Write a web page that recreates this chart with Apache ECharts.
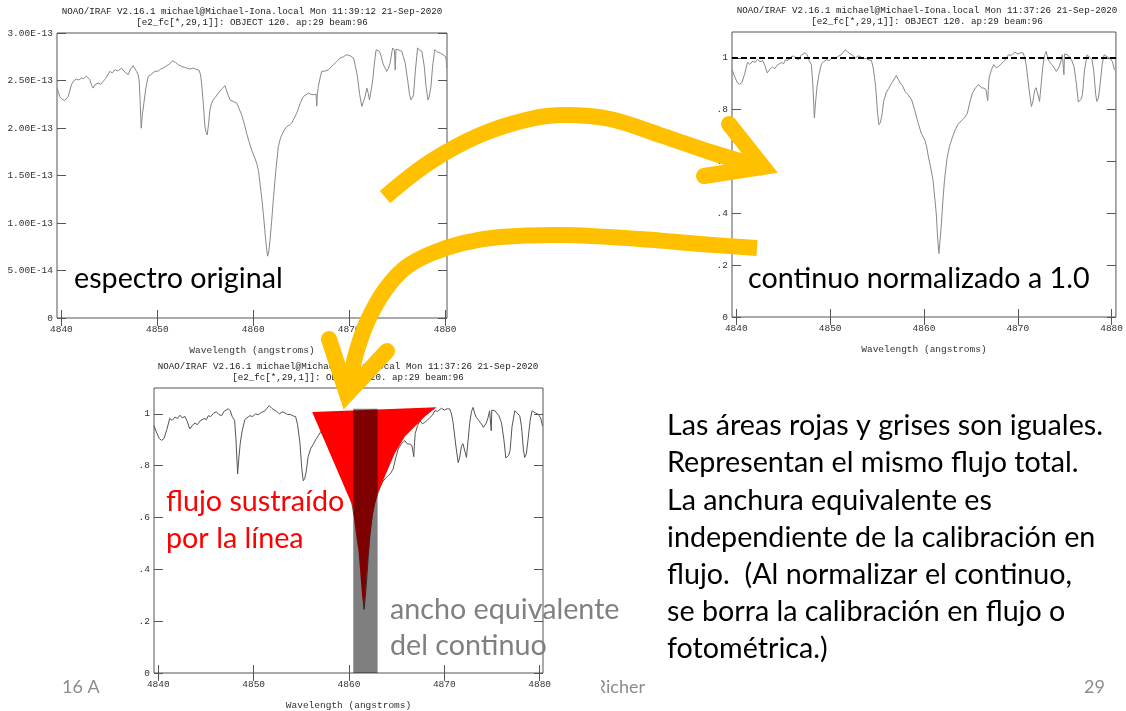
<!DOCTYPE html>
<html>
<head>
<meta charset="utf-8">
<script src="https://cdn.jsdelivr.net/npm/echarts@6/dist/echarts.min.js"></script>
<style>
  html, body { margin: 0; padding: 0; background: #ffffff; }
  #chart { width: 1126px; height: 711px; }
</style>
</head>
<body>
<div id="chart"></div>
<script>
// ---- Axis ticks -------------------------------------------------------
const wavelengthTicks = [4840, 4850, 4860, 4870, 4880];
const wavelengthLabels = ['4840', '4850', '4860', '4870', '4880'];
// Flux axis of the calibrated spectrum, in units of 1e-13 erg/cm2/s/A
const fluxTicks = [0, 0.5, 1, 1.5, 2, 2.5, 3];
const fluxLabels = ['0', '5.00E-14', '1.00E-13', '1.50E-13', '2.00E-13', '2.50E-13', '3.00E-13'];
const normTicks = [0, 0.2, 0.4, 0.6, 0.8, 1];
const normLabels = ['0', '.2', '.4', '.6', '.8', '1'];

// ---- Spectra ----------------------------------------------------------
// Flux-calibrated spectrum around H-beta: [wavelength (A), flux (1e-13)]
const originalSpectrum = [
  [4839.55,2.42],[4839.7,2.37],[4839.83,2.33],[4840.1,2.3],[4840.35,2.29],[4840.55,2.3],[4840.7,2.33],
  [4840.9,2.4],[4841.04,2.455],[4841.3,2.5],[4841.57,2.515],[4841.8,2.505],[4842.09,2.525],[4842.3,2.52],
  [4842.6,2.545],[4842.8,2.53],[4842.96,2.51],[4843.15,2.45],[4843.3,2.42],[4843.5,2.455],[4843.83,2.473],
  [4844.1,2.46],[4844.35,2.49],[4844.6,2.52],[4845.05,2.596],[4845.3,2.58],[4845.57,2.613],[4845.9,2.6],
  [4846.26,2.631],[4846.5,2.6],[4846.7,2.59],[4846.96,2.561],[4847.2,2.62],[4847.48,2.656],[4847.65,2.64],
  [4847.83,2.596],[4848.0,2.56],[4848.1,2.508],[4848.2,2.3],[4848.32,1.998],[4848.45,2.15],[4848.6,2.262],
  [4848.8,2.42],[4849.05,2.543],[4849.3,2.56],[4849.74,2.596],[4850.1,2.6],[4850.35,2.62],[4850.61,2.631],
  [4850.9,2.65],[4851.13,2.666],[4851.35,2.68],[4851.59,2.708],[4851.9,2.69],[4852.18,2.666],[4852.5,2.65],
  [4852.8,2.64],[4853.05,2.631],[4853.4,2.62],[4853.74,2.631],[4854.0,2.62],[4854.37,2.606],[4854.5,2.56],
  [4854.61,2.473],[4854.8,2.25],[4854.96,2.015],[4855.1,1.95],[4855.2,1.927],[4855.35,2.05],[4855.48,2.191],
  [4855.65,2.26],[4855.83,2.297],[4856.1,2.33],[4856.35,2.367],[4856.7,2.41],[4857.05,2.445],[4857.3,2.37],
  [4857.57,2.297],[4857.9,2.28],[4858.27,2.262],[4858.5,2.21],[4858.79,2.139],[4859.05,2.05],[4859.31,1.945],
  [4859.55,1.86],[4859.83,1.769],[4860.1,1.7],[4860.36,1.629],[4860.55,1.55],[4860.7,1.418],[4860.9,1.25],
  [4861.05,1.101],[4861.2,0.93],[4861.3,0.82],[4861.4,0.72],[4861.5,0.651],[4861.62,0.7],[4861.75,0.82],
  [4861.92,1.02],[4862.09,1.242],[4862.35,1.55],[4862.62,1.804],[4862.85,1.9],[4863.07,1.945],[4863.3,1.99],
  [4863.49,2.015],[4863.75,2.03],[4864.0,2.051],[4864.25,2.1],[4864.53,2.156],[4864.9,2.26],[4865.23,2.332],
  [4865.5,2.35],[4865.75,2.367],[4866.0,2.355],[4866.27,2.35],[4866.55,2.357],[4866.62,2.23],[4866.68,2.35],
  [4866.79,2.438],[4867.0,2.54],[4867.14,2.596],[4867.5,2.6],[4867.84,2.613],[4868.1,2.64],[4868.36,2.666],
  [4868.7,2.7],[4869.05,2.737],[4869.4,2.75],[4869.75,2.772],[4870.1,2.76],[4870.45,2.737],[4870.65,2.65],
  [4870.86,2.543],[4871.1,2.35],[4871.32,2.227],[4871.5,2.28],[4871.66,2.332],[4871.84,2.42],[4872.0,2.36],
  [4872.12,2.297],[4872.3,2.4],[4872.46,2.508],[4872.65,2.7],[4872.81,2.824],[4873.16,2.807],[4873.35,2.75],
  [4873.51,2.684],[4873.7,2.64],[4873.92,2.596],[4874.1,2.63],[4874.27,2.684],[4874.45,2.8],[4874.55,2.842],
  [4874.72,2.82],[4874.8,2.61],[4874.88,2.83],[4874.97,2.832],[4875.2,2.82],[4875.49,2.807],[4875.65,2.75],
  [4875.84,2.684],[4876.1,2.5],[4876.3,2.35],[4876.43,2.297],[4876.6,2.32],[4876.71,2.35],[4876.9,2.6],
  [4877.13,2.842],[4877.35,2.82],[4877.58,2.807],[4877.83,2.649],[4878.0,2.45],[4878.21,2.297],[4878.35,2.33],
  [4878.53,2.438],[4878.7,2.65],[4878.91,2.824],[4879.2,2.8],[4879.5,2.789],[4879.8,2.77],[4880.02,2.754],
  [4880.12,2.72],[4880.19,2.631]
];

// Same spectrum divided by its fitted continuum: [wavelength (A), relative flux]
const normalizedSpectrum = [
  [4839.55,0.955],[4839.8,0.93],[4840.1,0.905],[4840.35,0.898],[4840.6,0.905],[4840.9,0.94],[4841.2,0.983],
  [4841.45,0.975],[4841.75,0.988],[4842.0,0.982],[4842.27,0.995],[4842.5,0.985],[4842.8,0.99],[4843.05,0.97],
  [4843.3,0.942],[4843.55,0.955],[4843.85,0.965],[4844.1,0.958],[4844.35,0.972],[4844.55,0.968],[4844.8,0.982],
  [4845.05,0.978],[4845.24,0.993],[4845.5,0.99],[4845.8,1.003],[4846.1,1.008],[4846.35,0.998],[4846.64,0.993],
  [4846.9,1.01],[4847.1,1.005],[4847.34,1.02],[4847.55,1.012],[4847.75,0.99],[4848.0,0.975],[4848.15,0.9],
  [4848.32,0.768],[4848.45,0.83],[4848.6,0.888],[4848.8,0.935],[4849.08,0.978],[4849.3,0.985],[4849.6,0.993],
  [4849.9,0.99],[4850.2,1.0],[4850.48,0.997],[4850.8,1.005],[4851.18,1.012],[4851.4,1.022],[4851.63,1.032],
  [4851.9,1.022],[4852.15,1.015],[4852.4,1.01],[4852.7,1.0],[4853.0,1.008],[4853.28,1.004],[4853.55,0.998],
  [4853.85,0.998],[4854.15,0.992],[4854.4,0.99],[4854.6,0.96],[4854.85,0.89],[4855.05,0.79],[4855.2,0.742],
  [4855.35,0.75],[4855.5,0.775],[4855.72,0.835],[4856.0,0.868],[4856.25,0.882],[4856.5,0.9],[4856.77,0.915],
  [4857.05,0.932],[4857.25,0.918],[4857.47,0.903],[4857.7,0.893],[4858.0,0.87],[4858.3,0.858],[4858.69,0.838],
  [4859.0,0.8],[4859.39,0.748],[4859.7,0.71],[4860.09,0.683],[4860.3,0.655],[4860.44,0.625],[4860.7,0.58],
  [4860.96,0.53],[4861.15,0.46],[4861.31,0.4],[4861.45,0.31],[4861.59,0.245],[4861.7,0.29],[4861.84,0.35],
  [4862.0,0.44],[4862.19,0.53],[4862.45,0.61],[4862.71,0.658],[4863.06,0.696],[4863.3,0.72],[4863.58,0.741],
  [4863.85,0.752],[4864.11,0.762],[4864.35,0.77],[4864.63,0.787],[4864.9,0.83],[4865.16,0.864],[4865.5,0.885],
  [4865.86,0.897],[4866.1,0.885],[4866.38,0.883],[4866.6,0.878],[4866.75,0.878],[4866.8,0.835],[4866.85,0.875],
  [4866.95,0.925],[4867.2,0.955],[4867.43,0.974],[4867.7,0.962],[4867.95,0.967],[4868.2,0.975],[4868.48,0.986],
  [4868.75,0.995],[4869.0,1.012],[4869.3,1.01],[4869.7,1.022],[4870.0,1.015],[4870.3,1.02],[4870.57,1.019],
  [4870.75,1.0],[4870.92,0.967],[4871.2,0.88],[4871.45,0.812],[4871.6,0.83],[4871.8,0.875],[4871.95,0.885],
  [4872.08,0.878],[4872.2,0.85],[4872.32,0.832],[4872.5,0.9],[4872.67,0.967],[4872.85,1.01],[4873.02,1.025],
  [4873.2,1.0],[4873.37,0.986],[4873.6,0.975],[4873.9,0.961],[4874.1,0.948],[4874.24,0.941],[4874.4,0.965],
  [4874.59,0.986],[4874.75,1.012],[4874.86,1.019],[4874.92,0.935],[4874.98,1.015],[4875.1,1.02],[4875.3,1.012],
  [4875.46,1.013],[4875.7,0.995],[4875.99,0.967],[4876.25,0.9],[4876.45,0.83],[4876.58,0.825],[4876.75,0.84],
  [4876.9,0.86],[4877.1,0.95],[4877.39,1.012],[4877.6,1.005],[4877.91,0.993],[4878.1,0.95],[4878.3,0.86],
  [4878.43,0.832],[4878.6,0.845],[4878.78,0.9],[4879.0,0.975],[4879.2,1.012],[4879.5,1.005],[4879.83,0.999],
  [4880.0,1.005],[4880.1,0.985],[4880.3,0.954]
];

// Outline of the flux removed by the line (red area), in [wavelength, relative flux]
const absorbedFluxOutline = [
  [4856.14,1.007],[4860.44,0.64],[4860.6,0.575],[4860.8,0.52],[4861.0,0.47],[4861.2,0.38],[4861.35,0.31],
  [4861.55,0.248],[4861.7,0.3],[4861.85,0.38],[4862.05,0.47],[4862.3,0.56],[4862.6,0.635],[4863.0,0.693],
  [4863.76,0.758],[4864.81,0.848],[4865.86,0.913],[4866.91,0.951],[4867.96,0.99],[4869.18,1.026]
];

// Equivalent width box: wavelength span and height (continuum units)
const equivalentWidthSpan = [4860.45, 4863.0];
const equivalentWidthTop = 1.02;
const continuumLevel = 1;

// ---- Layout of the three plots ---------------------------------------
const panels = [
  { grid: { left: 57, top: 33, width: 390, height: 285 }, x: [4839.54, 4880.2],  y: [0, 3],   ticks: fluxTicks, labels: fluxLabels },
  { grid: { left: 732, top: 32, width: 391, height: 285 }, x: [4839.54, 4880.46], y: [0, 1.1], ticks: normTicks, labels: normLabels },
  { grid: { left: 154, top: 388, width: 389, height: 286 }, x: [4839.55, 4880.35], y: [0, 1.1], ticks: normTicks, labels: normLabels }
];

const MONO = 'Liberation Mono';
const tickText = { fontFamily: MONO, fontSize: 9.5, color: '#333' };
const frameColor = '#555';

function labelFor(ticks, labels) {
  return function (v) {
    const k = ticks.findIndex(t => Math.abs(t - v) < 1e-6);
    return k >= 0 ? labels[k] : '';
  };
}

const grids = [], xAxes = [], yAxes = [];
panels.forEach((p, i) => {
  grids.push(Object.assign({ show: true, borderColor: frameColor, borderWidth: 1, backgroundColor: 'transparent' }, p.grid));
  const xBase = { type: 'value', gridIndex: i, min: p.x[0], max: p.x[1], axisLine: { show: false }, splitLine: { show: false } };
  xAxes.push(Object.assign({}, xBase, {
    position: 'bottom',
    axisTick: { inside: true, length: 8, customValues: wavelengthTicks, lineStyle: { color: frameColor } },
    axisLabel: Object.assign({ customValues: wavelengthTicks, margin: 6, formatter: labelFor(wavelengthTicks, wavelengthLabels) }, tickText),
    name: 'Wavelength (angstroms)', nameLocation: 'middle', nameGap: 27,
    nameTextStyle: Object.assign({}, tickText)
  }));
  xAxes.push(Object.assign({}, xBase, {
    position: 'top',
    axisTick: { inside: true, length: 8, customValues: wavelengthTicks, lineStyle: { color: frameColor } },
    axisLabel: { show: false }
  }));
  const yBase = { type: 'value', gridIndex: i, min: p.y[0], max: p.y[1], axisLine: { show: false }, splitLine: { show: false } };
  yAxes.push(Object.assign({}, yBase, {
    position: 'left',
    axisTick: { inside: true, length: 9, customValues: p.ticks, lineStyle: { color: frameColor } },
    axisLabel: Object.assign({ customValues: p.ticks, margin: 4, formatter: labelFor(p.ticks, p.labels) }, tickText)
  }));
  yAxes.push(Object.assign({}, yBase, {
    position: 'right',
    axisTick: { inside: true, length: 9, customValues: p.ticks, lineStyle: { color: frameColor } },
    axisLabel: { show: false }
  }));
});

// ---- Annotations drawn on the slide ----------------------------------
const GOLD = '#FFC000';
const SANS = 'Lato';
const BIG = 28.7;

function headerLines(cx, y1, time) {
  return [
    { type: 'text', z: 50, style: { text: 'NOAO/IRAF V2.16.1 michael@Michael-Iona.local Mon ' + time + ' 21-Sep-2020',
      x: cx, y: y1, textAlign: 'center', textVerticalAlign: 'middle', font: '9.2px "' + MONO + '"', fill: '#222' } },
    { type: 'text', z: 50, style: { text: '[e2_fc[*,29,1]]: OBJECT 120. ap:29 beam:96',
      x: cx, y: y1 + 11, textAlign: 'center', textVerticalAlign: 'middle', font: '9.2px "' + MONO + '"', fill: '#222' } }
  ];
}

function slideText(text, x, y, size, color, align) {
  return { type: 'text', z: 120, style: { text: text, x: x, y: y, textAlign: align || 'left', textVerticalAlign: 'middle',
    font: size + 'px "' + SANS + '"', fill: color } };
}

const bodyLines = [
  'Las áreas rojas y grises son iguales.',
  'Representan el mismo flujo total.',
  'La anchura equivalente es',
  'independiente de la calibración en',
  'flujo.  (Al normalizar el continuo,',
  'se borra la calibración en flujo o',
  'fotométrica.)'
];

const graphics = []
  .concat(headerLines(252, 12, '11:39:12'))
  .concat(headerLines(927, 11, '11:37:26'))
  .concat(headerLines(348, 367, '11:37:26'))
  .concat([
    slideText('espectro original', 74, 279, BIG, '#000'),
    slideText('continuo normalizado a 1.0', 748, 279, BIG, '#000'),
    slideText('flujo sustraído', 166, 502, BIG, '#FF0000'),
    slideText('por la línea', 166, 539, BIG, '#FF0000'),
    slideText('ancho equivalente', 390, 610, BIG, '#808080'),
    slideText('del continuo', 390, 646, BIG, '#808080'),
    slideText('16 A', 62, 687, 18, '#8c8c8c'),
    slideText('Richer', 645, 687, 18, '#8c8c8c', 'right'),
    { type: 'rect', z: 121, shape: { x: 585, y: 674, width: 16, height: 26 }, style: { fill: '#ffffff' } },
    slideText('29', 1105, 687, 18, '#8c8c8c', 'right')
  ])
  .concat(bodyLines.map((t, k) => slideText(t, 667, 426 + k * 37.2, BIG, '#000')))
  .concat([
    // arrow from the calibrated to the normalized spectrum
    { type: 'polyline', z: 110, shape: { points: [[385,197],[430,162],[480,135],[530,119],[565,115],[610,119],[663,136],[710,152],[764,168]], smooth: 0.35 },
      style: { stroke: GOLD, lineWidth: 16, fill: null, lineCap: 'butt' } },
    { type: 'polyline', z: 110, shape: { points: [[729,124],[763,167],[704,176]] },
      style: { stroke: GOLD, lineWidth: 16, fill: null, lineCap: 'round', lineJoin: 'miter', miterLimit: 10 } },
    // arrow from the normalized spectrum to the area diagram
    { type: 'polyline', z: 110, shape: { points: [[757,248],[700,244],[640,239],[563,235],[500,237],[463,243],[430,254],[405,268],[385,290],[368,320],[357,350],[350,380],[347,395]], smooth: 0.35 },
      style: { stroke: GOLD, lineWidth: 16, fill: null, lineCap: 'butt' } },
    { type: 'polyline', z: 110, shape: { points: [[329,339],[347,394],[387,351]] },
      style: { stroke: GOLD, lineWidth: 16, fill: null, lineCap: 'round', lineJoin: 'miter', miterLimit: 10 } }
  ]);

// ---- Series ------------------------------------------------------------
const option = {
  animation: false,
  backgroundColor: '#ffffff',
  grid: grids,
  xAxis: xAxes,
  yAxis: yAxes,
  graphic: graphics,
  series: [
    { type: 'line', xAxisIndex: 0, yAxisIndex: 0, data: originalSpectrum, showSymbol: false, z: 2,
      lineStyle: { color: '#888', width: 1 } },
    { type: 'line', xAxisIndex: 2, yAxisIndex: 2, data: normalizedSpectrum, showSymbol: false, z: 2,
      lineStyle: { color: '#888', width: 1 },
      markLine: { silent: true, symbol: ['none', 'none'], label: { show: false },
        lineStyle: { color: '#000', width: 2, type: [6, 3] }, data: [{ yAxis: continuumLevel }] } },
    { type: 'line', xAxisIndex: 4, yAxisIndex: 4, data: normalizedSpectrum, showSymbol: false, z: 2,
      lineStyle: { color: '#555', width: 1 } },
    { type: 'custom', xAxisIndex: 4, yAxisIndex: 4, z: 3, data: absorbedFluxOutline,
      renderItem: function (params, api) {
        if (params.dataIndex !== 0) return null;
        return { type: 'polygon', shape: { points: absorbedFluxOutline.map(pt => api.coord(pt)) },
          style: { fill: '#FF0000' } };
      } },
    { type: 'custom', xAxisIndex: 4, yAxisIndex: 4, z: 4,
      data: [[equivalentWidthSpan[0], equivalentWidthSpan[1], equivalentWidthTop]],
      encode: { x: [0, 1], y: 2 },
      renderItem: function (params, api) {
        const a = api.coord([api.value(0), api.value(2)]);
        const b = api.coord([api.value(1), 0]);
        return { type: 'rect', shape: { x: a[0], y: a[1], width: b[0] - a[0], height: b[1] - a[1] },
          style: { fill: 'rgba(0,0,0,0.5)' } };
      } }
  ]
};

const chart = echarts.init(document.getElementById('chart'), null, { renderer: 'canvas' });
chart.setOption(option);
</script>
</body>
</html>
